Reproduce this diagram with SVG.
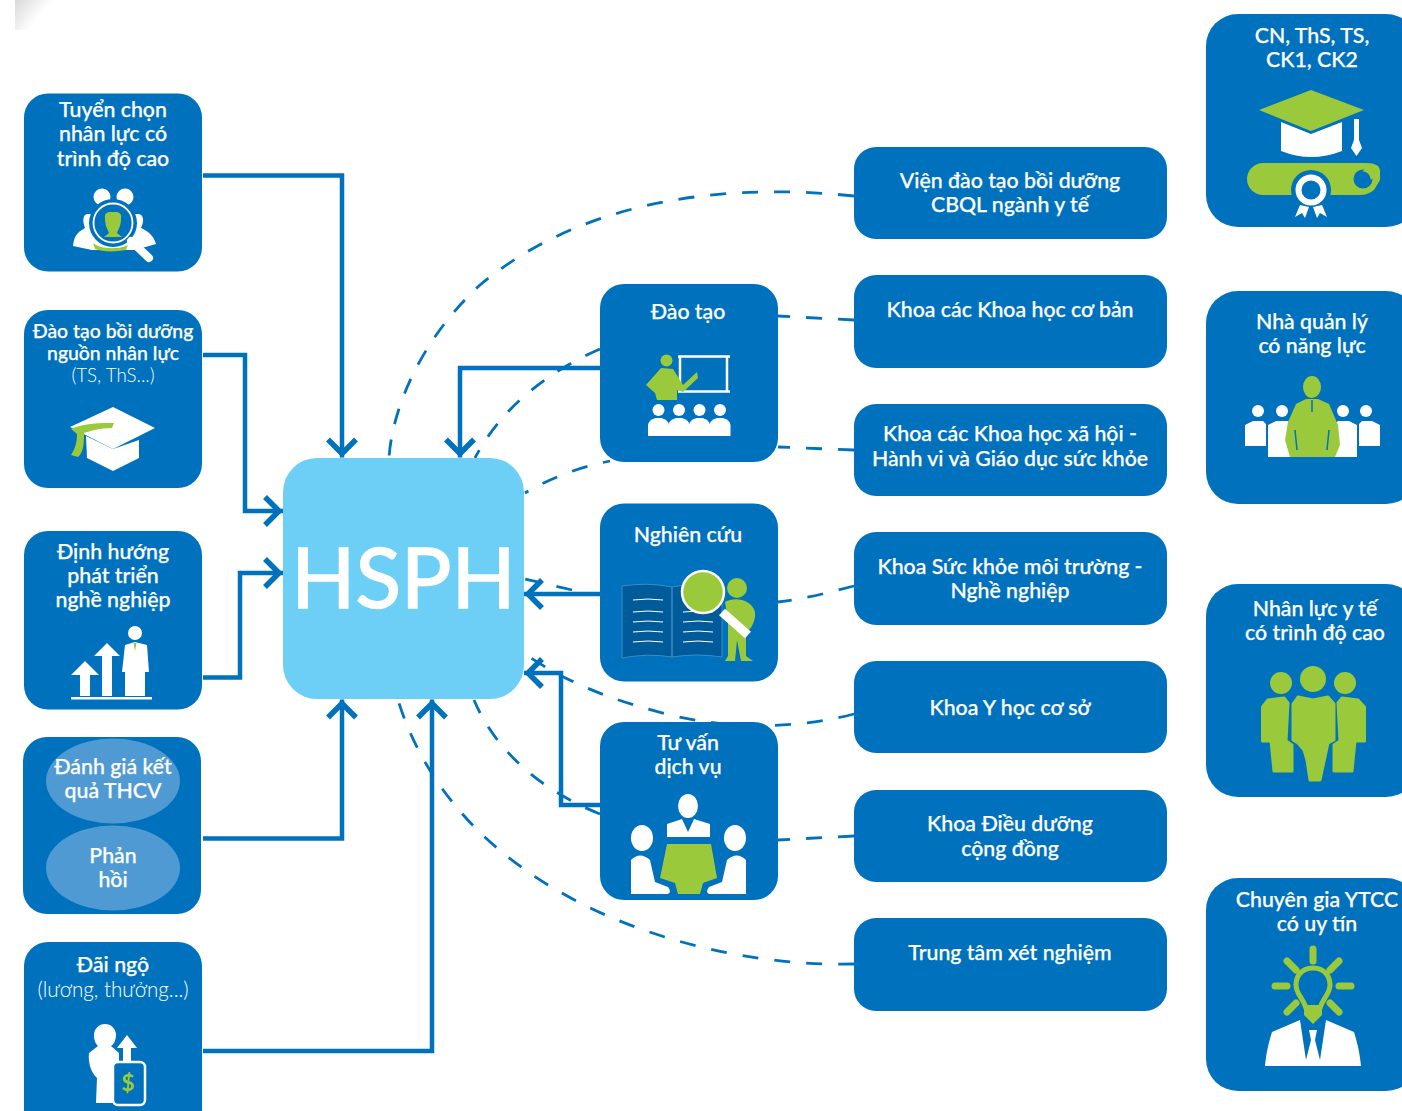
<svg xmlns="http://www.w3.org/2000/svg" width="1402" height="1111" viewBox="0 0 1402 1111">
<style>
text{font-family:"Lato","Noto Sans",sans-serif;fill:#fff;text-anchor:middle;font-size:21.300px;font-weight:500;stroke:#fff;stroke-width:.25}
text.l{font-weight:300;font-size:20.600px;stroke:none}
.b{fill:#0071bc}
.g{fill:#9aca3c}
.w{fill:#fff}
.so{fill:none;stroke:#0071bc;stroke-width:4.5}
.da{fill:none;stroke:#0071bc;stroke-width:2.800;stroke-dasharray:16 16}
</style>
<defs>
<marker id="chev" markerUnits="userSpaceOnUse" markerWidth="36" markerHeight="36" refX="31" refY="18" orient="auto">
<path d="M13,4 L27,18 L13,32" fill="none" stroke="#0071bc" stroke-width="5.500"/>
</marker>
<linearGradient id="cg" gradientUnits="userSpaceOnUse" x1="15" y1="0" x2="38" y2="18"><stop offset="0" stop-color="#d8d8d8"/><stop offset="1" stop-color="#fff"/></linearGradient>
<g id="stu"><circle class="w" cx="0" cy="-18" r="6"/><path class="w" d="M-10.500,8V-3Q-10,-8 -3,-10H3Q10,-8 10.500,-3V8Z"/></g>
</defs>
<rect width="1402" height="1111" fill="#fff"/>
<rect x="15" y="0" width="45" height="30" fill="url(#cg)"/>

<g id="connectors">
<path class="da" d="M854,196C700,180 570,210 480,285C420,340 392,410 389,458"/>
<path class="da" d="M854,320L778,316"/>
<path class="da" d="M600,349C540,375 497,415 475,458"/>
<path class="da" d="M854,450L778,447"/>
<path class="da" stroke-dashoffset="12" d="M525,493C550,478 580,467 610,461"/>
<path class="da" d="M854,586C830,592 805,599 778,602"/>
<path class="da" d="M572,590L525,579"/>
<path class="da" d="M854,714C800,728 735,730 675,716C620,703 570,685 525,654"/>
<path class="da" d="M854,836L778,840"/>
<path class="da" d="M600,814C540,790 495,750 474,700"/>
<path class="da" d="M854,964C700,968 460,900 398,700"/>
</g>

<g id="hsph"><rect x="283" y="458" width="241" height="241" rx="34" fill="#6dcff6"/>
<text x="403.500" y="608" style="font-size:84px;font-weight:400;stroke-width:1.600">HSPH</text></g>

<g id="connectors-solid">
<path class="so" d="M203,175.500H342V457.500" marker-end="url(#chev)"/>
<path class="so" d="M203,355H245V511H283" marker-end="url(#chev)"/>
<path class="so" d="M203,677.500H240V573H283" marker-end="url(#chev)"/>
<path class="so" d="M203,838.500H342V699.500" marker-end="url(#chev)"/>
<path class="so" d="M203,1051H432V699.500" marker-end="url(#chev)"/>
<path class="so" d="M600,368H460V457.500" marker-end="url(#chev)"/>
<path class="so" d="M600,594H524" marker-end="url(#chev)"/>
<path class="so" d="M600,805H561V673H524" marker-end="url(#chev)"/>
</g>

<g id="n1"><rect class="b" x="24" y="93.500" width="178" height="178" rx="24"/>
<text x="113" y="117">Tuyển chọn</text><text x="113" y="141">nhân lực có</text><text x="113" y="166">trình độ cao</text>
<circle class="w" cx="102" cy="197" r="8.500"/><circle class="w" cx="125" cy="197" r="8.500"/>
<path class="w" d="M73,246C74,234 80,231 85,228C82,220 83,214 88,214H138C143,214 145,220 141,228C148,231 154,236 156,244L135,250H92Z"/>
<circle cx="113" cy="223" r="24" fill="#0071bc"/>
<circle cx="113" cy="223" r="19.500" fill="none" stroke="#fff" stroke-width="1.800"/>
<path class="g" d="M105,219C104,212 108,212 113,212C118,212 122,212 121,219C121,226 118,230 117,233C119,235 121,236 122,237H104C105,236 107,235 109,233C108,230 105,226 105,219Z"/>
<path class="g" d="M93,243C100,249 118,250 128,245L126,250C116,252 102,252 95,249Z"/>
<path d="M131,241L149,258" stroke="#fff" stroke-width="8" stroke-linecap="round" fill="none"/></g>

<g id="n2"><rect class="b" x="24" y="310" width="178" height="178" rx="24"/>
<text x="113" y="338" style="font-size:19.400px">Đào tạo bồi dưỡng</text><text x="113" y="360" style="font-size:19.400px">nguồn nhân lực</text><text class="l" x="113" y="382" style="font-size:18.800px">(TS, ThS...)</text>
<path class="w" d="M86,436L113,449L139,440V458L113,471L87,458Z"/>
<path class="w" d="M70,427L113,407L155,428L113,449Z"/>
<path class="g" d="M71,429C85,423 100,423 114,423L112,428C100,428 90,431 84,433C84,442 84,452 78,457L71,455C76,448 77,440 77,434Z"/></g>

<g id="n3"><rect class="b" x="24" y="531" width="178" height="178.500" rx="24"/>
<text x="113" y="559">Định hướng</text><text x="113" y="583">phát triển</text><text x="113" y="607">nghề nghiệp</text>
<path class="w" d="M85,661L99,675H90V696H80V675H71Z"/>
<path class="w" d="M107,643L120,656H112V696H102V656H94Z"/>
<circle class="w" cx="135" cy="633" r="7"/>
<path class="w" d="M125,645L135,642L147,645L149,672H145V696H125V672H122Z"/>
<path class="g" d="M133.500,643H136.500L135,651Z"/>
<rect class="w" x="71" y="697" width="81" height="2.500"/></g>

<g id="n4"><rect class="b" x="23" y="737" width="178" height="177" rx="24"/>
<ellipse cx="113" cy="781" rx="67" ry="42.500" fill="#4f9ad2"/><ellipse cx="113" cy="868" rx="67" ry="42.500" fill="#4f9ad2"/>
<text x="113" y="774">Đánh giá kết</text><text x="113" y="798">quả THCV</text><text x="113" y="863">Phản</text><text x="113" y="887">hồi</text></g>

<g id="n5"><path class="b" d="M48,942H178A24,24 0 0 1 202,966V1111H24V966A24,24 0 0 1 48,942Z"/>
<text x="113" y="972">Đãi ngộ</text><text class="l" x="113" y="997">(lương, thưởng...)</text>
<path class="w" d="M94,1035A11,11 0 1 1 116,1035C116,1041 113,1045 111,1046L119,1053V1103H96L97,1078C90,1072 88,1060 89,1053L98,1046C96,1044 94,1041 94,1035Z"/>
<path class="w" d="M127,1035L137,1048H131V1064H123V1048H117Z"/>
<rect x="113" y="1062" width="32" height="43" rx="5" fill="#0071bc" stroke="#fff" stroke-width="2.500"/>
<text x="128" y="1091" style="font-size:23px;font-weight:700;fill:#9aca3c;stroke:none">$</text></g>

<g id="m1"><rect class="b" x="600" y="284" width="178" height="178" rx="24"/>
<text x="688" y="319">Đào tạo</text>
<path d="M678,356.500H730M680,356V392M727,356V392M678,391.500H730" stroke="#fff" stroke-width="2.500" fill="none"/>
<circle class="g" cx="666.500" cy="360.500" r="6"/>
<path class="g" d="M661,368L673,369L683,385L697,372L698,378L683,392L677,390V400H657L655,393L646,385Z"/>
<use href="#stu" x="658.500" y="428"/><use href="#stu" x="679" y="428"/><use href="#stu" x="699.500" y="428"/><use href="#stu" x="720" y="428"/></g>

<g id="m2"><rect class="b" x="600" y="503.500" width="178" height="178" rx="24"/>
<text x="688" y="542">Nghiên cứu</text>
<path d="M622,586Q648,582 672,587V657Q648,653 622,658Z M672,587Q697,582 722,586V657Q697,653 672,657Z" fill="#005b9a" stroke="#3c8bc4" stroke-width="1"/>
<path d="M633,600Q648,598 663,600M633,612Q648,610 663,612M633,622Q648,620 663,622M633,632Q648,630 663,632M633,642Q648,640 663,642M683,612Q698,610 713,612M683,622Q698,620 713,622M683,632Q698,630 713,632M683,642Q698,640 713,642" fill="none" stroke="#fff" stroke-width="1"/>
<circle class="g" cx="737" cy="588" r="10"/>
<path class="g" d="M725,602C735,596 752,600 755,612C756,622 750,630 746,633V656L753,661H741L737,640L735,661H725L728,656V620Z"/>
<path d="M722,612L748,635" stroke="#fff" stroke-width="9" fill="none"/>
<circle class="g" cx="703" cy="592" r="21" stroke="#fff" stroke-width="2.500"/></g>

<g id="m3"><rect class="b" x="600" y="722" width="178" height="178" rx="24"/>
<text x="688" y="750">Tư vấn</text><text x="688" y="774">dịch vụ</text>
<ellipse class="w" cx="688" cy="806" rx="10" ry="12"/>
<path class="w" d="M667,824L682,819L688,832L694,819L710,824V837H667Z"/>
<path class="g" d="M667,844H711L717,878L703,883L700,894H678L675,883L660,878Z"/>
<ellipse class="w" cx="642" cy="838" rx="11" ry="13"/><ellipse class="w" cx="735" cy="838" rx="11" ry="13"/>
<path class="w" d="M631,860Q640,851 650,860L655,882L668,887Q672,892 668,894H631Z M746,860Q737,851 727,860L722,882L709,887Q705,892 709,894H746Z"/></g>

<g id="r1"><rect class="b" x="854" y="147" width="313" height="92" rx="22"/><text x="1010" y="188">Viện đào tạo bồi dưỡng</text><text x="1010" y="212">CBQL ngành y tế</text></g>
<g id="r2"><rect class="b" x="854" y="275" width="313" height="93" rx="22"/><text x="1010" y="317">Khoa các Khoa học cơ bản</text></g>
<g id="r3"><rect class="b" x="854" y="404" width="313" height="92" rx="22"/><text x="1010" y="441">Khoa các Khoa học xã hội -</text><text x="1010" y="466">Hành vi và Giáo dục sức khỏe</text></g>
<g id="r4"><rect class="b" x="854" y="532" width="313" height="93" rx="22"/><text x="1010" y="574">Khoa Sức khỏe môi trường -</text><text x="1010" y="598">Nghề nghiệp</text></g>
<g id="r5"><rect class="b" x="854" y="661" width="313" height="92" rx="22"/><text x="1010" y="715">Khoa Y học cơ sở</text></g>
<g id="r6"><rect class="b" x="854" y="790" width="313" height="92" rx="22"/><text x="1010" y="831">Khoa Điều dưỡng</text><text x="1010" y="856">cộng đồng</text></g>
<g id="r7"><rect class="b" x="854" y="918" width="313" height="93" rx="22"/><text x="1010" y="960">Trung tâm xét nghiệm</text></g>

<g id="f1"><rect class="b" x="1206" y="14" width="212" height="213" rx="32"/>
<text x="1312" y="43">CN, ThS, TS,</text><text x="1312" y="67">CK1, CK2</text>
<path class="w" d="M1281,122L1311,134L1342,122V151Q1311,163 1281,151Z"/>
<path class="g" d="M1259,110L1311,90L1364,110L1311,131Z"/>
<path class="w" d="M1354,119H1359V140L1362,148L1356.500,156L1351,148L1354,140Z"/>
<path class="g" d="M1263,163H1366Q1380,163 1380,171V180L1374,190Q1368,195 1360,195H1263A16,16 0 0 1 1263,163Z"/>
<circle cx="1363" cy="179" r="9.500" fill="#0071bc"/>
<path class="g" d="M1362,171Q1370,172 1371,180L1375,176L1370,168Z"/>
<circle cx="1311" cy="190" r="20" fill="#0071bc"/>
<path class="w" d="M1300,205L1295,217L1302,213L1305,218L1309,207ZM1322,205L1327,217L1320,213L1317,218L1313,207Z"/>
<circle cx="1311" cy="190" r="12.500" fill="#0071bc" stroke="#fff" stroke-width="6"/></g>

<g id="f2"><rect class="b" x="1206" y="291" width="212" height="213" rx="32"/>
<text x="1312" y="329">Nhà quản lý</text><text x="1312" y="353">có năng lực</text>
<circle class="w" cx="1258" cy="411" r="6"/><circle class="w" cx="1282" cy="411" r="6"/><circle class="w" cx="1343" cy="411" r="6"/><circle class="w" cx="1366" cy="411" r="6"/>
<path class="w" d="M1245,446V425L1253,421H1263L1266,424V446ZM1268,457V425L1276,421H1288L1292,425L1291,457ZM1380,446V425L1372,421H1362L1359,424V446ZM1357,457V425L1349,421H1338L1334,425L1335,457Z"/>
<ellipse class="g" cx="1312" cy="387" rx="9" ry="11"/>
<path class="g" d="M1306,399H1318L1329,404L1338,425L1340,445L1335,457H1290L1285,440L1288,422L1296,404Z"/>
<path d="M1295,430L1297,450M1329,430L1327,450M1312,400V412" stroke="#0071bc" stroke-width="1.500" fill="none"/></g>

<g id="f3"><rect class="b" x="1206" y="584" width="212" height="213" rx="32"/>
<text x="1315" y="616">Nhân lực y tế</text><text x="1315" y="640">có trình độ cao</text>
<circle class="g" cx="1281" cy="683" r="11"/><circle class="g" cx="1313" cy="679" r="13"/><circle class="g" cx="1345" cy="683" r="11"/>
<g stroke="#9aca3c" stroke-width="3" stroke-linejoin="round">
<path class="g" d="M1268,700L1284,698L1288,703L1286,741L1292,745V771H1274L1271,741H1262.500V707Z"/>
<path class="g" d="M1358,700L1342,698L1338,703L1340,741L1334,745V771H1352L1355,741H1364.500V707Z"/>
<path class="g" d="M1298,697L1313,700L1328,697L1334,704V740L1328,743L1320,780H1310L1307,760L1304,750L1298,743L1293,740V704Z"/></g></g>

<g id="f4"><rect class="b" x="1206" y="878" width="212" height="213" rx="32"/>
<text x="1317" y="907">Chuyên gia YTCC</text><text x="1317" y="931">có uy tín</text>
<path d="M1313,949V961M1287,961L1296,970M1339,961L1330,970M1275,986H1287M1339,986H1351M1287,1012L1296,1003M1339,1012L1330,1003" stroke="#9aca3c" stroke-width="7" stroke-linecap="round" fill="none"/>
<path d="M1313,968C1300,968 1296,978 1296,985C1296,994 1303,998 1306,1008H1320C1323,998 1330,994 1330,985C1330,978 1326,968 1313,968Z" fill="#0071bc" stroke="#9aca3c" stroke-width="5"/>
<path class="g" d="M1304,1005H1322V1015L1313,1024L1304,1015Z"/>
<path class="w" d="M1300,1020L1272,1032C1268,1045 1266,1055 1265,1066H1361C1360,1055 1358,1045 1354,1032L1326,1020L1320,1060L1315,1040L1317,1030H1309L1311,1040L1306,1060Z"/></g>
</svg>
